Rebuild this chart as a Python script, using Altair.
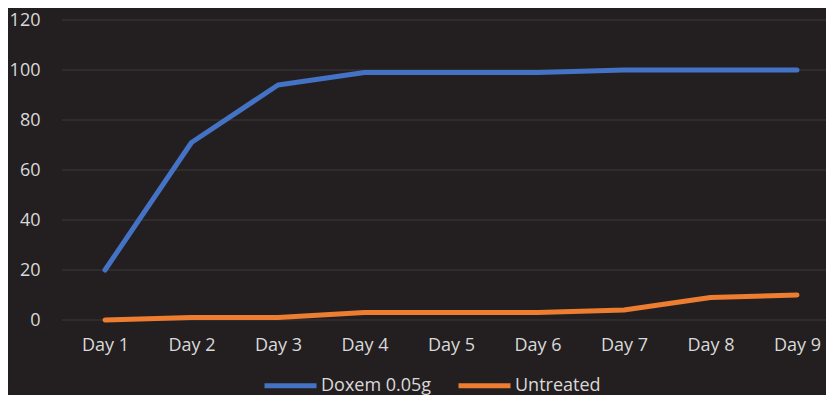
import altair as alt
import pandas as pd

days = ["Day 1", "Day 2", "Day 3", "Day 4", "Day 5", "Day 6", "Day 7", "Day 8", "Day 9"]
doxem = [20, 71, 94, 99, 99, 99, 100, 100, 100]
untreated = [0, 1, 1, 3, 3, 3, 4, 9, 10]
series_names = ["Doxem 0.05g", "Untreated"]
colors = ["#4472C4", "#ED7D31"]
y_ticks = [0, 20, 40, 60, 80, 100, 120]

rows = []
for d, v in zip(days, doxem):
    rows.append({"day": d, "value": v, "series": series_names[0]})
for d, v in zip(days, untreated):
    rows.append({"day": d, "value": v, "series": series_names[1]})
df = pd.DataFrame(rows)
grid_df = pd.DataFrame({"value": y_ticks})

BG = "#231F20"
GRID = "#3D3A3B"
TEXT = "#D9D9D9"
FONT = "Open Sans"
W = 764
H = 300

yscale = alt.Scale(domain=[0, 120], nice=False)
yaxis = alt.Axis(values=y_ticks, ticks=False, domain=False, grid=False, labelPadding=22)

grid = alt.Chart(grid_df).mark_rule(color=GRID, strokeWidth=1).encode(
    x=alt.value(0), x2=alt.value(W),
    y=alt.Y("value:Q", scale=yscale, title=None, axis=yaxis),
)

lines = alt.Chart(df).mark_line(strokeWidth=5, strokeCap="round", strokeJoin="round").encode(
    x=alt.X("day:O", sort=days, title=None,
            scale=alt.Scale(type="point", range=[43, 735], padding=0),
            axis=alt.Axis(labelAngle=0, ticks=False, domain=False,
                          labelPadding=16, grid=False)),
    y=alt.Y("value:Q", scale=yscale, title=None, axis=yaxis),
    color=alt.Color("series:N", sort=series_names,
                    scale=alt.Scale(domain=series_names, range=colors),
                    legend=alt.Legend(title=None, orient="none", direction="horizontal",
                                      legendX=200, legendY=337,
                                      symbolType="stroke", symbolSize=2704,
                                      symbolStrokeWidth=5, labelOffset=2,
                                      columnPadding=16, labelFontSize=18,
                                      labelColor=TEXT, labelFont=FONT)),
)

chart = alt.layer(grid, lines).properties(
    width=W, height=H,
    autosize=alt.AutoSizeParams(type="none"),
    padding={"left": 54, "top": 12, "right": 0, "bottom": 75},
    background=BG,
).configure_view(stroke=None).configure_axis(
    labelFont=FONT, labelFontSize=18, labelColor=TEXT
)

chart.save("out.html", embed_options={"renderer": "svg", "actions": False})
